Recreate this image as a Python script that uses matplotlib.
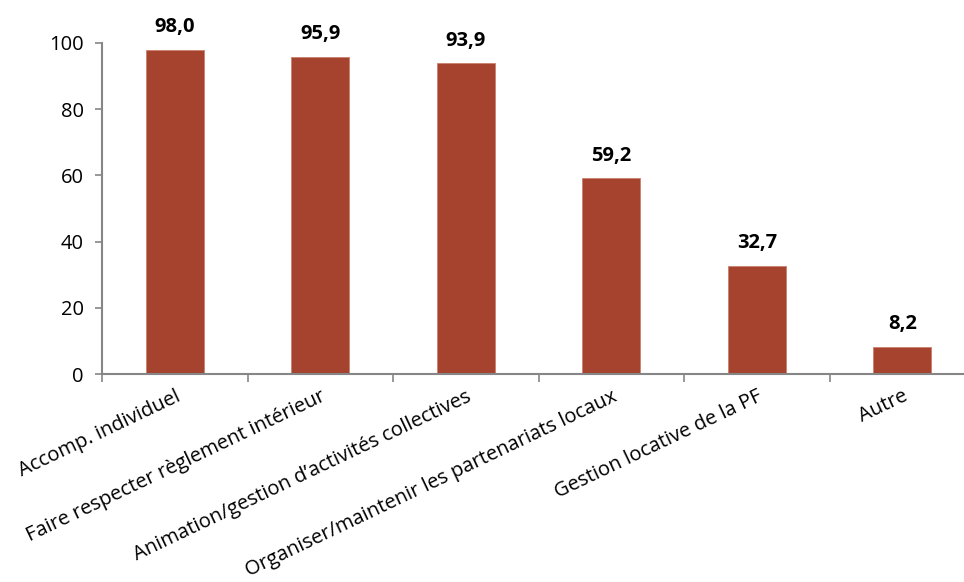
import matplotlib.pyplot as plt
import numpy as np

plt.rcParams['font.family'] = ['Open Sans', 'DejaVu Sans']

categories = ['Accomp. individuel',
              'Faire respecter règlement intérieur',
              'Animation/gestion d’activités collectives',
              'Organiser/maintenir les partenariats locaux',
              'Gestion locative de la PF',
              'Autre']
values = [98.0, 95.9, 93.9, 59.2, 32.7, 8.2]
labels = ['98,0', '95,9', '93,9', '59,2', '32,7', '8,2']

bar_color = '#A5432E'
axis_color = '#868686'

fig = plt.figure(figsize=(9.64, 5.82), dpi=100)
ax = fig.add_axes([102 / 964, 208 / 582, 873 / 964, 331 / 582])

x = np.arange(len(categories))
bars = ax.bar(x, values, width=0.4, color=bar_color, edgecolor='#C9806F', linewidth=0.6)

for b, lab in zip(bars, labels):
    ax.annotate(lab, (b.get_x() + b.get_width() / 2, b.get_height()),
                xytext=(0, 9), textcoords='offset points',
                ha='center', va='bottom', fontsize=14.5, fontweight='bold')

ax.set_xlim(-0.5, len(categories) - 0.5)
ax.set_ylim(0, 100)
ax.set_yticks([0, 20, 40, 60, 80, 100])
ax.tick_params(axis='y', labelsize=14.5, length=5, width=1.2, color=axis_color, pad=8)

# ticks between categories, labels at centres
ax.set_xticks(np.arange(-0.5, len(categories), 1.0))
ax.set_xticklabels([])
ax.tick_params(axis='x', which='major', length=6, width=1.2, color=axis_color)
ax.set_xticks(x, minor=True)
ax.set_xticklabels(categories, minor=True, rotation=25.5, ha='right',
                   rotation_mode='anchor', fontsize=14.5)
ax.tick_params(axis='x', which='minor', length=0, pad=9)

for s in ['top', 'right']:
    ax.spines[s].set_visible(False)
for s in ['left', 'bottom']:
    ax.spines[s].set_color(axis_color)
    ax.spines[s].set_linewidth(1.5)

fig.savefig('out.png', dpi=100)
